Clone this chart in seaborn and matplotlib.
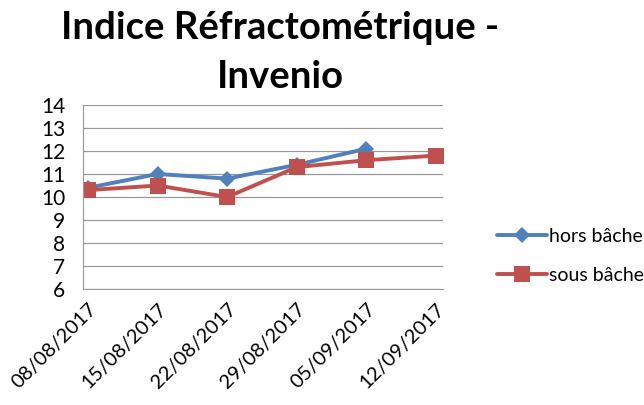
import matplotlib
matplotlib.use("Agg")
import matplotlib.pyplot as plt
import seaborn as sns
import pandas as pd
import numpy as np

dates = ["08/08/2017", "15/08/2017", "22/08/2017", "29/08/2017", "05/09/2017", "12/09/2017"]
hors_bache = [10.4, 11.0, 10.8, 11.4, 12.1, np.nan]
sous_bache = [10.3, 10.5, 10.0, 11.3, 11.6, 11.8]

sns.set_style("white")
plt.rcParams['font.family'] = ['Lato', 'DejaVu Sans']

df = pd.DataFrame({"pos": range(len(dates)), "hors": hors_bache, "sous": sous_bache})

fig = plt.figure(figsize=(6.44, 4.05), dpi=100)
ax = fig.add_axes([0.129, 0.286, 0.559, 0.455])

sns.lineplot(data=df, x="pos", y="hors", ax=ax, color="#4F81BD", linewidth=2.8,
             marker="D", markersize=8, markeredgewidth=0, label="hors bâche")
sns.lineplot(data=df, x="pos", y="sous", ax=ax, color="#C0504D", linewidth=2.8,
             marker="s", markersize=11, markeredgewidth=0, label="sous bâche")

ax.set_ylim(6, 14)
ax.set_yticks(range(6, 15))
ax.set_xlim(-0.07, 5.1)
ax.set_xticks(range(len(dates)))
ax.set_xticklabels(dates, rotation=45, ha="right", rotation_mode="anchor")
ax.tick_params(axis="y", labelsize=15, length=0, pad=13, labelcolor="black")
ax.tick_params(axis="x", labelsize=14.5, length=0, pad=8, labelcolor="black")
ax.set_xlabel("")
ax.set_ylabel("")
ax.grid(axis="y", color="#999999", linewidth=0.9)
for s in ["top", "right"]:
    ax.spines[s].set_visible(False)
ax.spines["left"].set_color("#999999")
ax.spines["bottom"].set_color("#999999")

leg = ax.legend(loc="center left", bbox_to_anchor=(1.1, 0.18), frameon=False,
                fontsize=14, handlelength=2.6, handletextpad=0.1, labelspacing=1.15)
for t in leg.get_texts():
    t.set_color("black")

fig.text(0.435, 0.93, "Indice Réfractométrique -", ha="center", va="center",
         fontsize=27.5, fontweight="bold", color="black")
fig.text(0.435, 0.81, "Invenio", ha="center", va="center",
         fontsize=27.5, fontweight="bold", color="black")

fig.savefig("out.png", dpi=100)
